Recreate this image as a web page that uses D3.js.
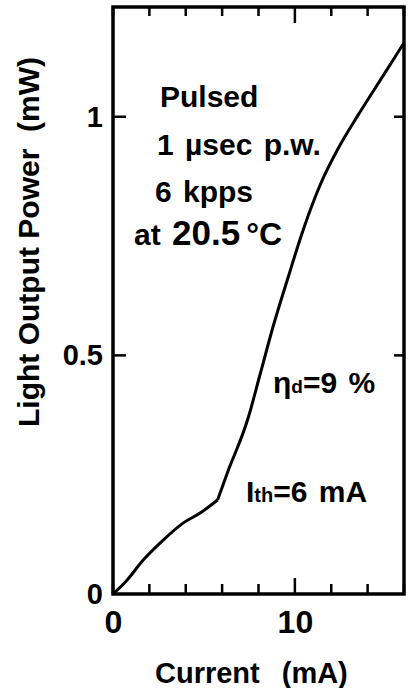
<!DOCTYPE html>
<html>
<head>
<meta charset="utf-8">
<script src="https://cdn.jsdelivr.net/npm/d3@7"></script>
<style>
body { margin: 0; background: #fff; }
svg text { font-family: "Liberation Sans", Arial, Helvetica, sans-serif; font-weight: bold; fill: #000; white-space: pre; }
</style>
</head>
<body>
<svg id="chart" width="420" height="688"></svg>
<script>
// light output vs drive current (pulsed)
var current_mA = [0, 0.77, 1.66, 2.76, 3.87, 4.81, 5.75, 6.3, 7.4, 8.1, 8.8, 9.6, 10.3, 10.8, 11.4, 12.4, 13.5, 14.75, 16];
var power_mW   = [0, 0.029, 0.071, 0.113, 0.149, 0.170, 0.197, 0.255, 0.365, 0.462, 0.56, 0.66, 0.745, 0.80, 0.858, 0.935, 1.005, 1.08, 1.155];
var threshold_mA = 5.75;

var x_ticks = [0, 2, 4, 6, 8, 10, 12, 14, 16];
var x_major = [0, 10];
var y_ticks = [0, 0.5, 1];
var y_tick_labels = ["0", "0.5", "1"];

var x_title = ["Current", "(mA)"];
var y_title = "Light Output Power  (mW)";
var conditions = ["Pulsed", "1 \u00b5sec p.w.", "6 kpps"];

var svg = d3.select("#chart");
var x = d3.scaleLinear().domain([0, 16]).range([113, 404]);
var y = d3.scaleLinear().domain([0, 1.23]).range([594, 7]);
var plot_l = x(0), plot_r = x(16), plot_b = y(0), plot_t = y(1.23);

// tick labels through d3 axes (no tick marks, those are drawn inward below)
var gx = svg.append("g").attr("transform", "translate(0," + plot_b + ")")
    .call(d3.axisBottom(x).tickValues(x_major).tickSize(0).tickPadding(16));
gx.select(".domain").remove();
gx.selectAll(".tick text").attr("fill", "#000").style("font-size", "32px");

var gy = svg.append("g").attr("transform", "translate(" + plot_l + ",0)")
    .call(d3.axisLeft(y).tickValues(y_ticks).tickSize(0).tickPadding(10)
        .tickFormat(function (d, i) { return y_tick_labels[i]; }));
gy.select(".domain").remove();
gy.selectAll(".tick text").attr("fill", "#000").style("font-size", "29px");

// frame
svg.append("rect")
    .attr("x", plot_l).attr("y", plot_t)
    .attr("width", plot_r - plot_l).attr("height", plot_b - plot_t)
    .attr("fill", "none").attr("stroke", "#000").attr("stroke-width", 3.5);

// inward tick marks on all four sides
var ticks = svg.append("g").attr("stroke", "#000").attr("stroke-width", 2.5);
ticks.selectAll("line.xb").data(x_ticks).enter().append("line").attr("class", "xb")
    .attr("x1", function (d) { return x(d); }).attr("x2", function (d) { return x(d); })
    .attr("y1", plot_b).attr("y2", function (d) { return plot_b - (d === 10 ? 16 : 10); });
ticks.selectAll("line.xt").data(x_ticks).enter().append("line").attr("class", "xt")
    .attr("x1", function (d) { return x(d); }).attr("x2", function (d) { return x(d); })
    .attr("y1", plot_t).attr("y2", function (d) { return plot_t + (d === 10 ? 16 : 9); });
ticks.selectAll("line.yl").data(y_ticks.slice(1)).enter().append("line").attr("class", "yl")
    .attr("y1", function (d) { return y(d); }).attr("y2", function (d) { return y(d); })
    .attr("x1", plot_l).attr("x2", plot_l + 13);
ticks.selectAll("line.yr").data(y_ticks.slice(1)).enter().append("line").attr("class", "yr")
    .attr("y1", function (d) { return y(d); }).attr("y2", function (d) { return y(d); })
    .attr("x1", plot_r).attr("x2", plot_r - 10);

// curve: spontaneous part and lasing part drawn separately so the kink stays sharp
var pts = current_mA.map(function (c, i) { return [c, power_mW[i]]; });
var line = d3.line().x(function (d) { return x(d[0]); }).y(function (d) { return y(d[1]); })
    .curve(d3.curveMonotoneX);
svg.append("path").datum(pts.filter(function (d) { return d[0] <= threshold_mA; }))
    .attr("d", line).attr("fill", "none").attr("stroke", "#000").attr("stroke-width", 3);
svg.append("path").datum(pts.filter(function (d) { return d[0] >= threshold_mA; }))
    .attr("d", line).attr("fill", "none").attr("stroke", "#000").attr("stroke-width", 3);

// titles
var xt = svg.append("text").attr("x", 155).attr("y", 683).style("font-size", "29px");
xt.append("tspan").text(x_title[0]);
xt.append("tspan").attr("dx", 22).text(x_title[1]);
svg.append("text").attr("transform", "translate(39,242) rotate(-90)")
    .attr("text-anchor", "middle").style("font-size", "30px").text(y_title);

// measurement notes
var notes = svg.append("g").style("font-size", "30px").style("word-spacing", "3px");
notes.selectAll("text.cond").data(conditions).enter().append("text")
    .attr("class", "cond")
    .attr("x", function (d, i) { return [160, 157, 155][i]; })
    .attr("y", function (d, i) { return [107, 155, 202][i]; })
    .text(function (d) { return d; });

var t = notes.append("text").attr("x", 134).attr("y", 245);
t.append("tspan").text("at ");
t.append("tspan").style("font-size", "35px").text("20.5");
t.append("tspan").attr("dx", 6).style("font-size", "32px").text("\u00b0C");

var eta = notes.append("text").attr("x", 273).attr("y", 393);
eta.append("tspan").text("\u03b7");
eta.append("tspan").style("font-size", "19px").text("d");
eta.append("tspan").text("=9 %");

var ith = notes.append("text").attr("x", 246).attr("y", 502);
ith.append("tspan").text("I");
ith.append("tspan").style("font-size", "20px").text("th");
ith.append("tspan").text("=6 mA");
</script>
</body>
</html>
